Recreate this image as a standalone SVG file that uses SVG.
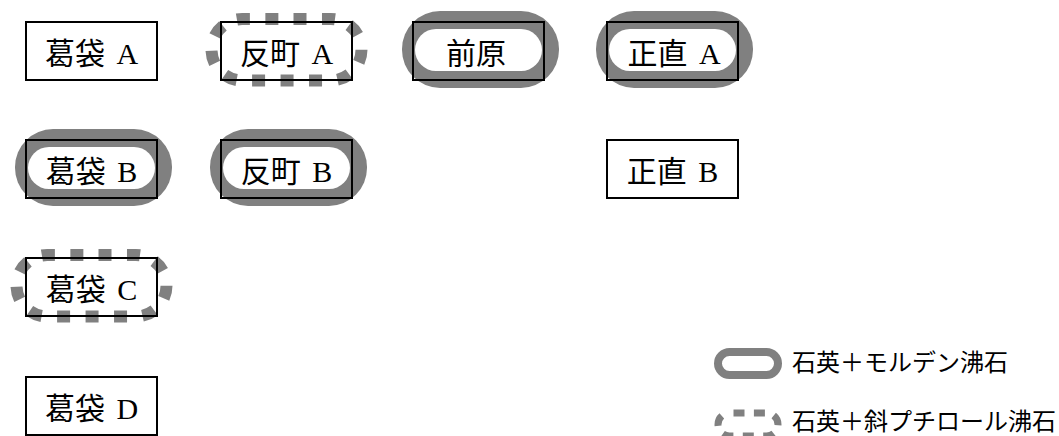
<svg xmlns="http://www.w3.org/2000/svg" width="1059" height="436" viewBox="0 0 1059 436">
<style>
.box{fill:none;stroke:#000;stroke-width:2}
.lbl{font-family:"Liberation Serif","Noto Sans CJK JP",serif;font-size:30px;text-anchor:middle;fill:#000}
.gray{fill:#808080}
.white{fill:#fff}
.dash{fill:#fff;stroke:#808080;stroke-width:12;stroke-dasharray:13 15.48;stroke-dashoffset:-7}
.leg{font-family:"Noto Sans CJK JP","Noto Sans",sans-serif;font-size:24px;fill:#000}
</style>
<defs>
<g id="solidPill">
<rect class="gray" x="-11" y="-11" width="157" height="77" rx="38"/>
<rect class="white" x="2" y="7" width="127" height="42" rx="21"/>
</g>
<path id="dashPill" class="dash" d="M65.5 -3H109.75A30.75 30.75 0 0 1 109.75 58.5H21.25A30.75 30.75 0 0 1 21.25 -3Z"/>
</defs>
<g id="connectors"></g>
<g id="n-katsurabukuro-a">
<rect class="box" x="26" y="22" width="131" height="58"/>
<text class="lbl" x="91.5" y="64">葛袋<tspan dx="4"> A</tspan></text>
</g>
<g id="n-sorimachi-a">
<use href="#dashPill" x="221" y="22"/>
<rect class="box" x="221" y="22" width="131" height="58"/>
<text class="lbl" x="286.5" y="64">反町<tspan dx="4"> A</tspan></text>
</g>
<g id="n-maebara">
<use href="#solidPill" x="413" y="22"/>
<rect class="box" x="413" y="22" width="131" height="58"/>
<text class="lbl" x="476" y="64">前原</text>
</g>
<g id="n-shojiki-a">
<use href="#solidPill" x="607" y="22"/>
<rect class="box" x="607" y="22" width="131" height="58"/>
<text class="lbl" x="674" y="64">正直<tspan dx="4"> A</tspan></text>
</g>
<g id="n-katsurabukuro-b">
<use href="#solidPill" x="26" y="140"/>
<rect class="box" x="26" y="140" width="131" height="58"/>
<text class="lbl" x="91.5" y="182">葛袋<tspan dx="4"> B</tspan></text>
</g>
<g id="n-sorimachi-b">
<use href="#solidPill" x="221" y="140"/>
<rect class="box" x="221" y="140" width="131" height="58"/>
<text class="lbl" x="286.5" y="182">反町<tspan dx="4"> B</tspan></text>
</g>
<g id="n-shojiki-b">
<rect class="box" x="607" y="140" width="131" height="58"/>
<text class="lbl" x="672.5" y="182">正直<tspan dx="4"> B</tspan></text>
</g>
<g id="n-katsurabukuro-c">
<use href="#dashPill" x="26" y="258"/>
<rect class="box" x="26" y="258" width="131" height="58"/>
<text class="lbl" x="91.5" y="300">葛袋<tspan dx="4"> C</tspan></text>
</g>
<g id="n-katsurabukuro-d">
<rect class="box" x="26" y="377" width="131" height="58"/>
<text class="lbl" x="91.5" y="419">葛袋<tspan dx="4"> D</tspan></text>
</g>
<g id="legend">
<rect x="718" y="352" width="60" height="23" rx="11.5" fill="none" stroke="#808080" stroke-width="8"/>
<text class="leg" x="792" y="371">石英＋モルデン沸石</text>
<rect x="718" y="413" width="60" height="23" rx="11.5" fill="none" stroke="#808080" stroke-width="7" stroke-dasharray="11 9.4" stroke-dashoffset="-4"/>
<text class="leg" x="792" y="430">石英＋斜プチロール沸石</text>
</g>
</svg>
